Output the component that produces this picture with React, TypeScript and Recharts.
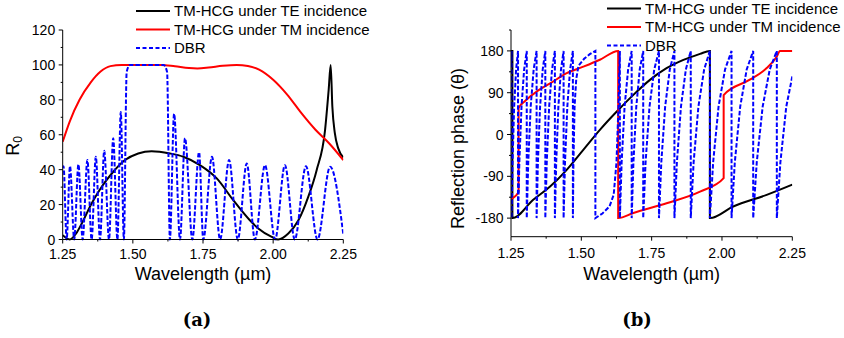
import { LineChart, Line, XAxis, YAxis } from "recharts";

const FONT = "'Liberation Sans', Arial, sans-serif";

// shared x axis (wavelength, um)
const wlTicks = [1.25, 1.375, 1.5, 1.625, 1.75, 1.875, 2, 2.125, 2.25];
const rTicks = [0, 10, 20, 30, 40, 50, 60, 70, 80, 90, 100, 110, 120];
const phaseTicks = [-180, -135, -90, -45, 0, 45, 90, 135, 180, 225];

const seriesNames = ["TM-HCG under TE incidence", "TM-HCG under TM incidence", "DBR"];

// (a) reflectance R0, [wavelength, value]
const teReflect = [
  [1.25, 2.5], [1.275, 0], [1.298, 3.5], [1.318, 9.2], [1.353, 20.6], [1.389, 30.2],
  [1.425, 37.8], [1.472, 45.5], [1.519, 49.3], [1.567, 50.6], [1.632, 49.3], [1.68, 47.4],
  [1.739, 42.6], [1.799, 35], [1.858, 22.5], [1.917, 11], [1.947, 6.3], [1.995, 1.5],
  [2.018, 0], [2.054, 3.4], [2.09, 11], [2.125, 24.4], [2.155, 39.7], [2.185, 62.7],
  [2.198, 86], [2.205, 100], [2.211, 76], [2.22, 60.8], [2.232, 52.2], [2.25, 47],
];
const tmReflect = [
  [1.25, 56], [1.276, 68], [1.31, 80], [1.35, 90], [1.385, 96.2], [1.42, 99.3],
  [1.46, 100], [1.5, 100], [1.55, 100], [1.6, 100], [1.65, 99.2], [1.7, 98.2],
  [1.73, 98], [1.77, 98.5], [1.82, 99.5], [1.87, 100], [1.91, 99.4], [1.95, 97.3],
  [2.0, 91.5], [2.05, 83], [2.1, 72.5], [2.15, 63], [2.2, 55], [2.25, 45.5],
];
const dbrReflect = [
  [1.25, 41], [1.253, 42], [1.264, 0], [1.276, 42], [1.291, 0], [1.306, 43], [1.321, 0],
  [1.338, 45.5], [1.353, 0], [1.368, 47.4], [1.383, 0], [1.398, 50.8], [1.415, 0],
  [1.43, 58], [1.445, 0], [1.457, 73], [1.468, 0], [1.478, 96], [1.49, 100], [1.61, 100],
  [1.622, 96], [1.632, 0], [1.647, 72], [1.668, 0], [1.686, 58], [1.712, 0], [1.736, 50],
  [1.751, 0], [1.782, 47.4], [1.811, 0], [1.843, 45.5], [1.874, 0], [1.906, 43.6],
  [1.935, 0], [1.971, 42.6], [2.007, 0], [2.042, 42.6], [2.077, 0], [2.117, 42],
  [2.158, 0], [2.203, 41.7], [2.25, 3],
];

// (b) reflection phase, degrees
const tePhase = [
  [1.25, 180], [1.255, 180], [1.255, -180], [1.329, -140.6], [1.389, -112], [1.448, -76],
  [1.507, -33], [1.566, 10], [1.626, 49.4], [1.685, 85.3], [1.744, 117.6], [1.803, 142.7],
  [1.863, 160.6], [1.922, 173.6], [1.957, 180], [1.957, -180], [2.04, -155], [2.159, -130],
  [2.25, -108],
];
const tmPhase = [
  [1.25, -139], [1.277, -124], [1.277, 57], [1.3, 72], [1.347, 95], [1.389, 110],
  [1.448, 132], [1.507, 146], [1.566, 161], [1.631, 180], [1.631, -180], [1.685, -169],
  [1.803, -148], [1.922, -123], [2.006, -94], [2.006, 85], [2.099, 118], [2.159, 143],
  [2.195, 168], [2.206, 180], [2.25, 180],
];
const dbrPhase = [
  [1.25, 150], [1.252, 180],
  [1.252, -180], [1.2555, -60], [1.2612, 60], [1.2681, 140], [1.275, 180],
  [1.275, -180], [1.2797, -60], [1.2874, 60], [1.2967, 140], [1.306, 180],
  [1.306, -180], [1.3113, -60], [1.32, 60], [1.3305, 140], [1.341, 180],
  [1.341, -180], [1.3457, -60], [1.3534, 60], [1.3627, 140], [1.372, 180],
  [1.372, -180], [1.3771, -60], [1.3856, 60], [1.3958, 140], [1.406, 180],
  [1.406, -180], [1.4107, -60], [1.4184, 60], [1.4277, 140], [1.437, 180],
  [1.437, -180], [1.442, -60], [1.4502, 60], [1.4601, 140], [1.47, 180],
  [1.47, -180], [1.472, -60], [1.476, 60], [1.482, 120], [1.49, 148], [1.51, 163], [1.53, 173], [1.55, 180],
  [1.55, -180], [1.575, -170], [1.6, -155], [1.615, -130], [1.625, -60], [1.632, 60], [1.637, 180],
  [1.637, -180], [1.6433, -60], [1.6538, 60], [1.6664, 140], [1.679, 180],
  [1.679, -180], [1.6852, -60], [1.6954, 60], [1.7077, 140], [1.72, 180],
  [1.72, -180], [1.7284, -60], [1.7424, 60], [1.7592, 140], [1.776, 180],
  [1.776, -180], [1.7843, -60], [1.798, 60], [1.8145, 140], [1.831, 180],
  [1.831, -180], [1.8397, -60], [1.8542, 60], [1.8716, 140], [1.889, 180],
  [1.889, -180], [1.8992, -60], [1.9162, 60], [1.9366, 140], [1.957, 180],
  [1.957, -180], [1.9686, -60], [1.9878, 60], [2.0109, 140], [2.034, 180],
  [2.034, -180], [2.0456, -60], [2.0648, 60], [2.0879, 140], [2.111, 180],
  [2.111, -180], [2.1236, -60], [2.1446, 60], [2.1698, 140], [2.195, 180],
  [2.195, -180], [2.2076, -60], [2.2286, 60], [2.25, 125],
];

const rows = (pts: number[][]) => pts.map(([wl, v]) => ({ wl, v }));

const onStep = (v: number, start: number, step: number) => {
  const k = (v - start) / step;
  return Math.abs(k - Math.round(k)) < 1e-6;
};

const XTick = ({ x, y, payload, dy }: any) => {
  const major = onStep(payload.value, 1.25, 0.25);
  return (
    <g>
      <line x1={x} x2={x} y1={y} y2={y + (major ? 4 : 2)} stroke="#000" />
      {major && (
        <text x={x} y={y + dy} textAnchor="middle" fontSize={14} fontFamily={FONT} fill="#000">
          {payload.value.toFixed(2)}
        </text>
      )}
    </g>
  );
};

const YTick = ({ x, y, payload, step }: any) => {
  const v = payload.value;
  const major = onStep(v, 0, step) && Math.abs(v) <= 180;
  return (
    <g>
      <line x1={x} x2={x - (major ? 4 : 2)} y1={y} y2={y} stroke="#000" />
      {major && (
        <text x={x - 7.5} y={y} dy="0.36em" textAnchor="end" fontSize={14} fontFamily={FONT} fill="#000">
          {v}
        </text>
      )}
    </g>
  );
};

const LegendBox = ({ left, top }: { left: number; top: number }) => {
  const colors = ["#000", "#ff0000", "#0000ff"];
  return (
    <g>
      {seriesNames.map((name, i) => {
        const cy = top + i * 18.5;
        return (
          <g key={name}>
            <line
              x1={left} x2={left + 34} y1={cy} y2={cy}
              stroke={colors[i]} strokeWidth={2}
              strokeDasharray={i === 2 ? "4 2.5" : undefined}
            />
            <text x={left + 38} y={cy} dy="0.36em" fontSize={15} fontFamily={FONT} fill="#000">
              {name}
            </text>
          </g>
        );
      })}
    </g>
  );
};

export default function App() {
  return (
    <div style={{ position: "absolute", left: 0, top: 0, width: 844, height: 338, background: "#fff" }}>
      <div style={{ position: "absolute", left: 0, top: 0 }}>
        <LineChart width={422} height={300} margin={{ top: 30, right: 78.7, left: 22.7, bottom: 10.5 }}>
          <XAxis
            dataKey="wl" type="number" domain={[1.25, 2.25]} ticks={wlTicks} interval={0}
            height={50} tickSize={0} tickMargin={0} tickLine={false} stroke="#000"
            tick={(p: any) => <XTick {...p} dy={19} />} allowDataOverflow
          />
          <YAxis
            type="number" domain={[0, 120]} ticks={rTicks} interval={0} width={40}
            tickSize={0} tickMargin={0} tickLine={false} stroke="#000"
            tick={(p: any) => <YTick {...p} step={20} />}
          />
          <Line data={rows(teReflect)} dataKey="v" type="monotone" stroke="#000" strokeWidth={2} dot={false} isAnimationActive={false} />
          <Line data={rows(tmReflect)} dataKey="v" type="monotone" stroke="#ff0000" strokeWidth={2} dot={false} isAnimationActive={false} />
          <Line data={rows(dbrReflect)} dataKey="v" type="monotone" stroke="#0000ff" strokeWidth={2} strokeDasharray="4.5 2" dot={false} isAnimationActive={false} />
        </LineChart>
      </div>
      <div style={{ position: "absolute", left: 422, top: 0 }}>
        <LineChart width={422} height={300} margin={{ top: 30, right: 51.7, left: 49, bottom: 13.3 }}>
          <XAxis
            dataKey="wl" type="number" domain={[1.25, 2.25]} ticks={wlTicks} interval={0}
            height={50} tickSize={0} tickMargin={0} tickLine={false} stroke="#000"
            tick={(p: any) => <XTick {...p} dy={21.5} />} allowDataOverflow
          />
          <YAxis
            type="number" domain={[-220, 225]} ticks={phaseTicks} interval={0} width={40}
            tickSize={0} tickMargin={0} tickLine={false} stroke="#000"
            tick={(p: any) => <YTick {...p} step={90} />} allowDataOverflow
          />
          <Line data={rows(tePhase)} dataKey="v" type="monotone" stroke="#000" strokeWidth={2} dot={false} isAnimationActive={false} />
          <Line data={rows(tmPhase)} dataKey="v" type="monotone" stroke="#ff0000" strokeWidth={2} dot={false} isAnimationActive={false} />
          <Line data={rows(dbrPhase)} dataKey="v" type="linear" stroke="#0000ff" strokeWidth={2} strokeDasharray="4.5 2" dot={false} isAnimationActive={false} />
        </LineChart>
      </div>
      <svg width={844} height={338} style={{ position: "absolute", left: 0, top: 0, pointerEvents: "none" }}>
        <LegendBox left={136} top={11} />
        <LegendBox left={607} top={8.5} />
        <text transform="translate(18.5,146) rotate(-90)" textAnchor="middle" fontSize={18} fontFamily={FONT} fill="#000">
          R<tspan fontSize={12} dy={3}>0</tspan>
        </text>
        <text transform="translate(464,148.5) rotate(-90)" textAnchor="middle" fontSize={18} fontFamily={FONT} fill="#000">
          Reflection phase (θ)
        </text>
        <text x={203} y={279.5} textAnchor="middle" fontSize={18} fontFamily={FONT} fill="#000">Wavelength (µm)</text>
        <text x={651.7} y={279.5} textAnchor="middle" fontSize={18} fontFamily={FONT} fill="#000">Wavelength (µm)</text>
        <text x={197} y={326} textAnchor="middle" fontSize={18} fontWeight="bold" fontFamily="'DejaVu Serif', serif" fill="#000">(a)</text>
        <text x={637} y={326} textAnchor="middle" fontSize={18} fontWeight="bold" fontFamily="'DejaVu Serif', serif" fill="#000">(b)</text>
      </svg>
    </div>
  );
}
